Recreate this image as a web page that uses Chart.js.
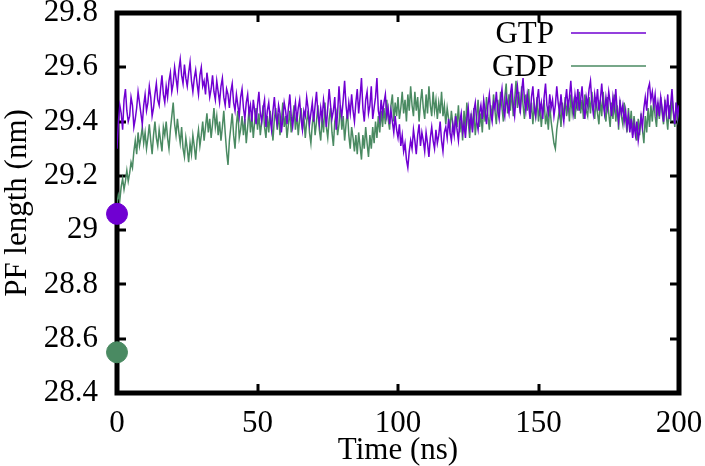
<!DOCTYPE html>
<html>
<head>
<meta charset="utf-8">
<script src="https://cdn.jsdelivr.net/npm/chart.js@4/dist/chart.umd.min.js"></script>
<style>
  body { margin: 0; background: #fff; }
  #wrap { width: 705px; height: 466px; }
</style>
</head>
<body>
<div id="wrap"><canvas id="pfChart" width="705" height="466"></canvas></div>
<script>
// sampling: one value every 0.5 ns, 0..200 ns
const stepNs = 0.5;

// PF length, GTP (nm)
const gtpValues = [
  29.30, 29.40, 29.46, 29.43, 29.37, 29.48, 29.52, 29.44, 29.40, 29.42,
  29.49, 29.46, 29.38, 29.41, 29.45, 29.51, 29.47, 29.43, 29.39, 29.46,
  29.50, 29.44, 29.47, 29.53, 29.49, 29.42, 29.45, 29.50, 29.54, 29.48,
  29.46, 29.52, 29.57, 29.50, 29.47, 29.53, 29.49, 29.55, 29.58, 29.51,
  29.54, 29.60, 29.56, 29.52, 29.59, 29.63, 29.57, 29.54, 29.61, 29.56,
  29.53, 29.58, 29.62, 29.55, 29.51, 29.56, 29.59, 29.54, 29.50, 29.57,
  29.60, 29.53, 29.55, 29.50, 29.58, 29.54, 29.49, 29.52, 29.57, 29.51,
  29.48, 29.55, 29.51, 29.47, 29.53, 29.56, 29.49, 29.46, 29.52, 29.50,
  29.45, 29.51, 29.54, 29.47, 29.44, 29.50, 29.46, 29.42, 29.49, 29.52,
  29.45, 29.41, 29.47, 29.50, 29.43, 29.46, 29.40, 29.48, 29.44, 29.39,
  29.46, 29.51, 29.43, 29.40, 29.45, 29.48, 29.38, 29.44, 29.47, 29.41,
  29.37, 29.44, 29.49, 29.42, 29.39, 29.46, 29.43, 29.36, 29.41, 29.47,
  29.44, 29.39, 29.45, 29.50, 29.42, 29.38, 29.43, 29.47, 29.40, 29.45,
  29.48, 29.41, 29.37, 29.44, 29.42, 29.49, 29.45, 29.39, 29.43, 29.47,
  29.40, 29.46, 29.51, 29.43, 29.39, 29.45, 29.41, 29.48, 29.44, 29.38,
  29.45, 29.52, 29.46, 29.41, 29.44, 29.49, 29.37, 29.43, 29.53, 29.45,
  29.42, 29.48, 29.55, 29.46, 29.41, 29.47, 29.43, 29.50, 29.44, 29.40,
  29.47, 29.52, 29.43, 29.49, 29.56, 29.45, 29.40, 29.48, 29.51, 29.43,
  29.46, 29.53, 29.41, 29.45, 29.49, 29.56, 29.44, 29.41, 29.48, 29.43,
  29.47, 29.50, 29.42, 29.45, 29.39, 29.44, 29.40, 29.36, 29.42, 29.37,
  29.34, 29.39, 29.31, 29.35, 29.29, 29.32, 29.26, 29.23, 29.29, 29.33,
  29.30, 29.37, 29.33, 29.28, 29.35, 29.39, 29.31, 29.36, 29.33, 29.29,
  29.36, 29.32, 29.27, 29.34, 29.38, 29.33, 29.30, 29.37, 29.32, 29.35,
  29.40, 29.33, 29.29, 29.36, 29.38, 29.34, 29.41, 29.36, 29.33, 29.39,
  29.35, 29.42, 29.37, 29.33, 29.40, 29.43, 29.36, 29.39, 29.34, 29.41,
  29.45, 29.38, 29.42, 29.36, 29.44, 29.47, 29.40, 29.37, 29.43, 29.46,
  29.41, 29.48, 29.44, 29.39, 29.46, 29.50, 29.43, 29.40, 29.47, 29.45,
  29.51, 29.44, 29.41, 29.48, 29.52, 29.45, 29.42, 29.49, 29.46, 29.43,
  29.50, 29.54, 29.46, 29.42, 29.49, 29.53, 29.47, 29.44, 29.51, 29.56,
  29.48, 29.44, 29.50, 29.46, 29.41, 29.49, 29.53, 29.45, 29.42, 29.48,
  29.52, 29.44, 29.47, 29.41, 29.49, 29.54, 29.46, 29.43, 29.50, 29.45,
  29.48, 29.42, 29.46, 29.53, 29.47, 29.43, 29.50, 29.44, 29.40, 29.47,
  29.52, 29.45, 29.49, 29.55, 29.47, 29.43, 29.50, 29.46, 29.52, 29.44,
  29.48, 29.53, 29.45, 29.41, 29.49, 29.46, 29.52, 29.55, 29.47, 29.43,
  29.50, 29.46, 29.52, 29.44, 29.48, 29.54, 29.47, 29.43, 29.49, 29.45,
  29.51, 29.47, 29.42, 29.49, 29.45, 29.52, 29.44, 29.40, 29.47, 29.43,
  29.46, 29.40, 29.44, 29.38, 29.42, 29.36, 29.41, 29.34, 29.39, 29.35,
  29.40, 29.33, 29.37, 29.42, 29.38, 29.45, 29.49, 29.44, 29.52, 29.54,
  29.48, 29.51, 29.46, 29.50, 29.43, 29.47, 29.42, 29.49, 29.45, 29.40,
  29.47, 29.43, 29.50, 29.41, 29.46, 29.52, 29.44, 29.39, 29.47, 29.42,
  29.46
];

// PF length, GDP (nm)
const gdpValues = [
  29.10, 29.13, 29.11, 29.16, 29.19, 29.15, 29.18, 29.22, 29.18, 29.21,
  29.25, 29.23, 29.29, 29.33, 29.28, 29.36, 29.31, 29.34, 29.38, 29.32,
  29.36, 29.30, 29.34, 29.39, 29.33, 29.28, 29.35, 29.40, 29.34, 29.31,
  29.37, 29.33, 29.29, 29.38, 29.35, 29.40, 29.34, 29.30, 29.37, 29.42,
  29.47, 29.39, 29.35, 29.41, 29.36, 29.32, 29.38, 29.30, 29.27, 29.34,
  29.30, 29.25, 29.32, 29.28, 29.35, 29.31, 29.26, 29.33, 29.37, 29.31,
  29.35, 29.40, 29.33, 29.38, 29.43, 29.36, 29.41, 29.34, 29.39, 29.45,
  29.38, 29.42, 29.35, 29.40, 29.33, 29.38, 29.44, 29.36, 29.29, 29.24,
  29.33, 29.38, 29.43, 29.35, 29.30, 29.39, 29.44, 29.34, 29.37, 29.42,
  29.35, 29.41, 29.32, 29.38, 29.45, 29.36, 29.42, 29.34, 29.40, 29.45,
  29.37, 29.43, 29.35, 29.40, 29.46, 29.38, 29.34, 29.42, 29.36, 29.44,
  29.39, 29.33, 29.41, 29.45, 29.37, 29.43, 29.35, 29.40, 29.47, 29.38,
  29.42, 29.34, 29.39, 29.44, 29.36, 29.41, 29.46, 29.37, 29.43, 29.35,
  29.41, 29.45, 29.37, 29.42, 29.34, 29.40, 29.44, 29.36, 29.32, 29.39,
  29.43, 29.35, 29.40, 29.46, 29.37, 29.33, 29.42, 29.36, 29.47, 29.38,
  29.34, 29.41, 29.45, 29.36, 29.31, 29.40, 29.43, 29.35, 29.39, 29.46,
  29.37, 29.42, 29.33, 29.39, 29.44, 29.35, 29.30, 29.38, 29.34, 29.29,
  29.35, 29.28, 29.36, 29.31, 29.26, 29.35, 29.30, 29.38, 29.32, 29.27,
  29.35, 29.30, 29.38, 29.32, 29.40, 29.34, 29.42, 29.36, 29.44, 29.38,
  29.45, 29.39, 29.48, 29.41, 29.37, 29.46, 29.50, 29.40, 29.47, 29.42,
  29.49, 29.41, 29.45, 29.51, 29.43, 29.48, 29.40, 29.50, 29.44, 29.53,
  29.46, 29.42, 29.51, 29.44, 29.49, 29.40, 29.47, 29.52, 29.45, 29.41,
  29.50, 29.43, 29.53, 29.46, 29.42, 29.51, 29.44, 29.48, 29.41, 29.47,
  29.43, 29.51, 29.42, 29.46, 29.39, 29.45, 29.41, 29.37, 29.44, 29.39,
  29.35, 29.43, 29.38, 29.46, 29.36, 29.41, 29.33, 29.44, 29.37, 29.47,
  29.40, 29.34, 29.43, 29.37, 29.45, 29.35, 29.41, 29.48, 29.38, 29.43,
  29.36, 29.46, 29.40, 29.49, 29.42, 29.37, 29.46, 29.41, 29.50, 29.44,
  29.39, 29.48, 29.43, 29.51, 29.45, 29.40, 29.49, 29.54, 29.43, 29.50,
  29.44, 29.52, 29.42, 29.48, 29.55, 29.45, 29.51, 29.43, 29.53, 29.46,
  29.41, 29.50, 29.44, 29.52, 29.42, 29.47, 29.39, 29.46, 29.42, 29.49,
  29.40, 29.46, 29.38, 29.44, 29.48, 29.39, 29.43, 29.37, 29.46, 29.40,
  29.36, 29.32, 29.30, 29.37, 29.41, 29.45, 29.38, 29.47, 29.41, 29.49,
  29.42, 29.48, 29.40, 29.50, 29.43, 29.47, 29.41, 29.49, 29.44, 29.51,
  29.43, 29.48, 29.41, 29.50, 29.44, 29.42, 29.49, 29.43, 29.51, 29.45,
  29.41, 29.49, 29.43, 29.39, 29.48, 29.42, 29.51, 29.44, 29.40, 29.49,
  29.43, 29.38, 29.47, 29.41, 29.50, 29.40, 29.46, 29.37, 29.48, 29.42,
  29.39, 29.47, 29.41, 29.36, 29.45, 29.38, 29.44, 29.35, 29.42, 29.37,
  29.33, 29.41, 29.35, 29.43, 29.37, 29.32, 29.42, 29.36, 29.45, 29.38,
  29.46, 29.40, 29.48, 29.42, 29.38, 29.47, 29.41, 29.49, 29.43, 29.39,
  29.48, 29.42, 29.37, 29.46, 29.40, 29.49, 29.43, 29.38, 29.47, 29.41,
  29.45
];

// starting PF lengths (big dots at t = 0)
const startTime = [0, 0];
const startValues = [29.06, 28.55];

const seriesNames = ['GTP', 'GDP'];
const seriesColors = ['#7000d2', '#4a8a62'];

const FONT = 'Liberation Serif, Times New Roman, serif';
const FONT_SIZE = 31;

const xTicks = [0, 50, 100, 150, 200];
const yMin = 28.4, yMax = 29.8;

function toPoints(values) {
  return values.map((v, i) => ({ x: i * stepNs, y: v }));
}

// рамка и засечки внутрь, как в gnuplot
const framePlugin = {
  id: 'frame',
  beforeDatasetsDraw(chart) {
    const { ctx, chartArea: a, scales } = chart;
    ctx.save();
    ctx.strokeStyle = '#000';
    ctx.lineWidth = 5;
    ctx.strokeRect(a.left, a.top, a.right - a.left, a.bottom - a.top);
    ctx.lineWidth = 3;
    ctx.beginPath();
    scales.y.ticks.forEach(t => {
      const y = Math.round(scales.y.getPixelForValue(t.value));
      ctx.moveTo(a.left, y); ctx.lineTo(a.left + 9, y);
      ctx.moveTo(a.right, y); ctx.lineTo(a.right - 9, y);
    });
    scales.x.ticks.forEach(t => {
      const x = Math.round(scales.x.getPixelForValue(t.value));
      ctx.moveTo(x, a.bottom); ctx.lineTo(x, a.bottom - 9);
      ctx.moveTo(x, a.top); ctx.lineTo(x, a.top + 9);
    });
    ctx.stroke();
    ctx.restore();
  }
};

// легенда: текст справа налево, потом образец линии
const keyPlugin = {
  id: 'key',
  afterDraw(chart) {
    const { ctx } = chart;
    ctx.save();
    ctx.font = FONT_SIZE + 'px ' + FONT;
    ctx.textAlign = 'right';
    ctx.textBaseline = 'middle';
    seriesNames.forEach((name, i) => {
      const y = 33 + i * 33;
      ctx.fillStyle = '#000';
      ctx.fillText(name, 554, y + 2);
      ctx.strokeStyle = seriesColors[i];
      ctx.lineWidth = 1.5;
      ctx.beginPath();
      ctx.moveTo(571, y); ctx.lineTo(646, y);
      ctx.stroke();
    });
    ctx.restore();
  }
};

const lineSets = seriesNames.map((name, i) => ({
  label: name,
  data: toPoints(i === 0 ? gtpValues : gdpValues),
  borderColor: seriesColors[i],
  borderWidth: 1.5,
  pointRadius: 0,
  tension: 0,
  order: 2
}));

const dotSets = startValues.map((v, i) => ({
  label: seriesNames[i] + ' start',
  type: 'scatter',
  data: [{ x: startTime[i], y: v }],
  backgroundColor: seriesColors[i],
  borderColor: seriesColors[i],
  pointRadius: 10.5,
  pointHoverRadius: 10.5,
  clip: false,
  order: 1
}));

new Chart(document.getElementById('pfChart'), {
  type: 'line',
  data: { datasets: lineSets.concat(dotSets) },
  options: {
    responsive: false,
    animation: false,
    events: [],
    layout: { padding: { left: 0, right: 26, top: 13, bottom: 0 } },
    plugins: { legend: { display: false }, tooltip: { enabled: false } },
    scales: {
      x: {
        type: 'linear',
        min: 0, max: 200,
        afterBuildTicks: s => { s.ticks = xTicks.map(v => ({ value: v })); },
        afterFit: s => { s.height = 73; s.paddingLeft = 0; s.paddingRight = 0; },
        grid: { display: false, drawTicks: false },
        border: { display: false },
        ticks: { color: '#000', padding: 12, maxRotation: 0, font: { family: FONT, size: FONT_SIZE } },
        title: { display: true, text: 'Time (ns)', color: '#000', padding: 0,
                 font: { family: FONT, size: FONT_SIZE, lineHeight: 1.0 } }
      },
      y: {
        min: yMin, max: yMax,
        afterFit: s => { s.width = 117; s.paddingTop = 0; s.paddingBottom = 0; },
        grid: { display: false, drawTicks: false },
        border: { display: false },
        ticks: { color: '#000', stepSize: 0.2, padding: 19,
                 font: { family: FONT, size: FONT_SIZE },
                 callback: v => String(+v.toFixed(1)) },
        title: { display: true, text: 'PF length (nm)', color: '#000', padding: { top: 2, bottom: 0 },
                 font: { family: FONT, size: FONT_SIZE, lineHeight: 1.0 } }
      }
    }
  },
  plugins: [framePlugin, keyPlugin]
});
</script>
</body>
</html>
